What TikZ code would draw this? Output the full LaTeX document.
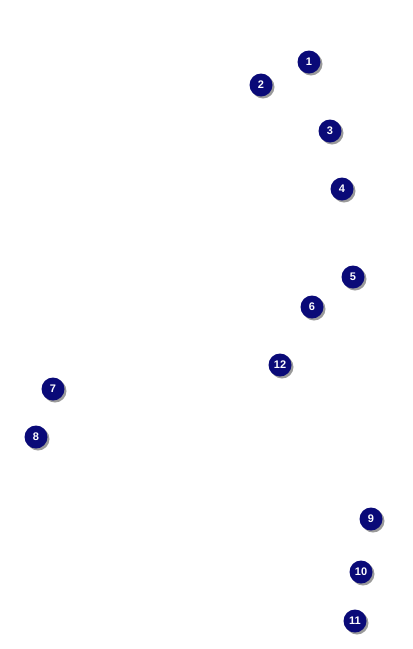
\documentclass[tikz,border=0pt]{standalone}
\usepackage{fontspec}
\setmainfont{Liberation Sans}
\definecolor{navy}{HTML}{0A0A78}
\definecolor{shade}{HTML}{9A9A9A}
\tikzset{
  badge/.style={circle, fill=navy, minimum size=23pt, inner sep=0pt, text=white,
    font=\bfseries\fontsize{11pt}{11pt}\selectfont,
    preaction={fill=shade, transform canvas={shift={(2pt,-2pt)}}}}
}
\begin{document}
\begin{tikzpicture}[x=1pt,y=-1pt]
\useasboundingbox (0,0) rectangle (413,649);
\node[badge] (n1) at (309,62) {1};
\node[badge] (n2) at (261,85) {2};
\node[badge] (n3) at (330,131) {3};
\node[badge] (n4) at (342,189) {4};
\node[badge] (n5) at (353,277) {5};
\node[badge] (n6) at (312,307) {6};
\node[badge] (n12) at (280,365) {12};
\node[badge] (n7) at (53,389) {7};
\node[badge] (n8) at (36,437) {8};
\node[badge] (n9) at (371,519) {9};
\node[badge] (n10) at (361,572) {10};
\node[badge] (n11) at (355,621) {11};
\end{tikzpicture}
\end{document}
